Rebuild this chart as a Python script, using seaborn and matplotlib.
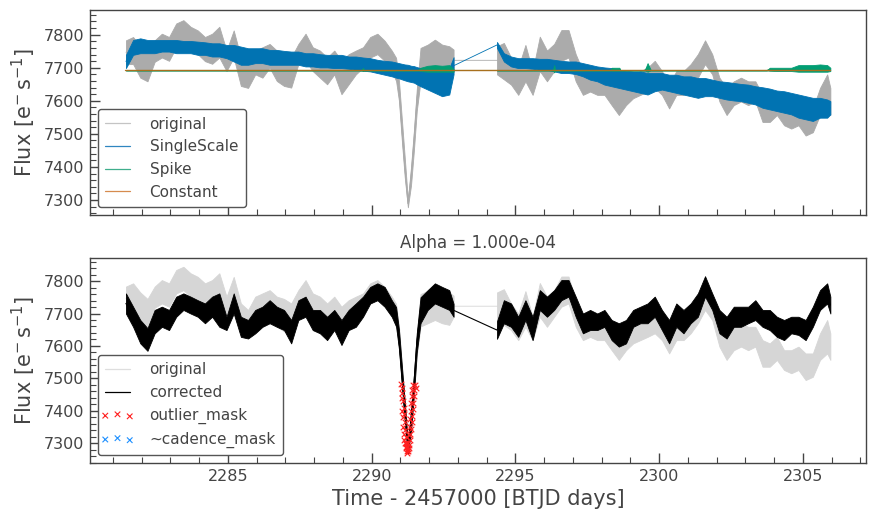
import numpy as np
import pandas as pd
import matplotlib
matplotlib.use("Agg")
import matplotlib.pyplot as plt
from matplotlib.lines import Line2D
from matplotlib.collections import PathCollection
from matplotlib.legend_handler import HandlerPathCollection
from matplotlib.ticker import MultipleLocator
import seaborn as sns

# ---------------- data ----------------
# segment 1 sample times (BTJD)
t1 = [2281.45, 2281.70, 2281.95, 2282.20, 2282.45, 2282.70, 2282.95, 2283.20, 2283.45, 2283.70,
      2283.95, 2284.20, 2284.45, 2284.70, 2284.95, 2285.20, 2285.45, 2285.70, 2285.95, 2286.20,
      2286.45, 2286.70, 2286.95, 2287.20, 2287.45, 2287.70, 2287.95, 2288.20, 2288.45, 2288.70,
      2288.95, 2289.20, 2289.45, 2289.70, 2289.95, 2290.20, 2290.45, 2290.70, 2290.85, 2290.95,
      2291.05, 2291.15, 2291.26, 2291.37, 2291.47, 2291.57, 2291.70, 2291.95, 2292.20, 2292.45,
      2292.70, 2292.85]
# segment 2 sample times (BTJD)
t2 = [2294.36, 2294.60, 2294.85, 2295.10, 2295.35, 2295.60, 2295.85, 2296.10, 2296.35, 2296.60,
      2296.85, 2297.10, 2297.35, 2297.60, 2297.85, 2298.10, 2298.35, 2298.60, 2298.85, 2299.10,
      2299.35, 2299.60, 2299.85, 2300.10, 2300.35, 2300.60, 2300.85, 2301.10, 2301.35, 2301.60,
      2301.85, 2302.10, 2302.35, 2302.60, 2302.85, 2303.10, 2303.35, 2303.60, 2303.85, 2304.10,
      2304.35, 2304.60, 2304.85, 2305.10, 2305.35, 2305.60, 2305.85, 2305.96]

# original flux: lower / upper envelope of the noisy curve
orig_lo1 = [7711, 7711, 7670, 7659, 7718, 7731, 7721, 7762, 7772, 7752,
            7741, 7720, 7712, 7731, 7690, 7731, 7645, 7639, 7680, 7670,
            7700, 7660, 7645, 7640, 7711, 7721, 7690, 7670, 7650, 7680,
            7620, 7650, 7680, 7700, 7731, 7741, 7721, 7690, 7660, 7600,
            7480, 7370, 7278, 7345, 7450, 7570, 7660, 7670, 7680, 7670,
            7665, 7690]
orig_hi1 = [7783, 7793, 7765, 7745, 7783, 7803, 7793, 7834, 7844, 7824,
            7813, 7793, 7803, 7824, 7752, 7813, 7731, 7711, 7752, 7762,
            7772, 7752, 7745, 7731, 7772, 7803, 7762, 7752, 7731, 7752,
            7721, 7741, 7752, 7762, 7793, 7803, 7782, 7752, 7730, 7660,
            7545, 7430, 7300, 7400, 7510, 7635, 7760, 7770, 7785, 7770,
            7765, 7755]
orig_lo2 = [7680, 7665, 7649, 7618, 7659, 7618, 7690, 7659, 7690, 7721,
            7731, 7659, 7618, 7628, 7618, 7618, 7587, 7557, 7587, 7608,
            7618, 7628, 7639, 7618, 7577, 7618, 7618, 7639, 7670, 7711,
            7680, 7598, 7557, 7587, 7598, 7587, 7598, 7536, 7536, 7557,
            7526, 7516, 7526, 7495, 7505, 7557, 7577, 7557]
orig_hi2 = [7765, 7775, 7731, 7700, 7769, 7690, 7794, 7752, 7772, 7814,
            7814, 7741, 7690, 7700, 7690, 7690, 7659, 7639, 7659, 7680,
            7690, 7700, 7721, 7690, 7649, 7690, 7690, 7711, 7741, 7783,
            7741, 7670, 7639, 7659, 7670, 7659, 7659, 7618, 7608, 7628,
            7587, 7587, 7598, 7577, 7577, 7639, 7680, 7639]

# SingleScale component
ss_lo1 = [7699, 7739, 7744, 7744, 7744, 7749, 7749, 7744, 7744, 7744,
          7739, 7739, 7734, 7734, 7729, 7719, 7709, 7709, 7714, 7714,
          7709, 7709, 7709, 7709, 7709, 7704, 7704, 7701, 7701, 7699,
          7699, 7697, 7694, 7691, 7689, 7684, 7679, 7674, 7670, 7668,
          7665, 7662, 7659, 7657, 7655, 7650, 7644, 7634, 7624, 7614,
          7619, 7680]
ss_hi1 = [7739, 7784, 7789, 7784, 7784, 7784, 7784, 7784, 7781, 7781,
          7779, 7777, 7774, 7774, 7769, 7769, 7764, 7759, 7759, 7759,
          7754, 7754, 7751, 7749, 7749, 7744, 7744, 7741, 7739, 7739,
          7739, 7734, 7734, 7731, 7729, 7724, 7721, 7719, 7716, 7714,
          7712, 7710, 7709, 7706, 7705, 7702, 7699, 7699, 7694, 7689,
          7699, 7732]
ss_lo2 = [7760, 7719, 7704, 7699, 7699, 7697, 7694, 7694, 7689, 7684,
          7684, 7681, 7674, 7664, 7659, 7649, 7644, 7639, 7634, 7629,
          7624, 7619, 7629, 7634, 7629, 7624, 7619, 7614, 7609, 7614,
          7614, 7609, 7604, 7601, 7599, 7594, 7589, 7579, 7574, 7569,
          7564, 7559, 7549, 7544, 7539, 7549, 7549, 7559]
ss_hi2 = [7778, 7744, 7734, 7729, 7729, 7729, 7727, 7727, 7724, 7721,
          7719, 7719, 7714, 7709, 7704, 7701, 7699, 7694, 7691, 7689,
          7689, 7684, 7684, 7684, 7679, 7679, 7674, 7674, 7669, 7669,
          7664, 7659, 7657, 7654, 7651, 7649, 7644, 7641, 7637, 7631,
          7629, 7624, 7619, 7614, 7609, 7609, 7604, 7599]

# Spike component (own sample times)
sp_t1 = [2281.45, 2289.66, 2289.70, 2289.74, 2291.60, 2291.70, 2291.95, 2292.20, 2292.45, 2292.70, 2292.85]
sp_lo1 = [7692, 7692, 7690, 7692, 7692, 7690, 7688, 7688, 7688, 7688, 7688]
sp_hi1 = [7692, 7692, 7700, 7692, 7692, 7700, 7706, 7708, 7706, 7708, 7696]
sp_t2 = [2294.36, 2296.31, 2296.35, 2296.39, 2298.31, 2298.35, 2298.62, 2298.66, 2299.50, 2299.60,
         2299.72, 2303.75, 2303.85, 2304.10, 2304.35, 2304.60, 2304.85, 2305.10, 2305.35, 2305.60,
         2305.85, 2305.96]
sp_lo2 = [7692, 7692, 7686, 7692, 7692, 7691, 7691, 7692, 7692, 7688,
          7692, 7692, 7691, 7690, 7690, 7690, 7688, 7688, 7688, 7688,
          7688, 7690]
sp_hi2 = [7692, 7692, 7708, 7692, 7692, 7700, 7700, 7692, 7692, 7714,
          7692, 7692, 7700, 7700, 7700, 7700, 7708, 7708, 7708, 7710,
          7708, 7700]

# Constant component
const_t = [2281.43, 2305.96]
const_f = [7692, 7692]

# corrected flux
corr_lo1 = [7700, 7659, 7608, 7585, 7639, 7659, 7649, 7690, 7711, 7700,
            7690, 7670, 7690, 7659, 7649, 7700, 7628, 7623, 7639, 7659,
            7670, 7659, 7649, 7608, 7680, 7690, 7649, 7639, 7618, 7649,
            7603, 7649, 7659, 7690, 7731, 7741, 7721, 7690, 7660, 7590,
            7480, 7370, 7268, 7340, 7450, 7580, 7670, 7711, 7731, 7721,
            7711, 7690]
corr_hi1 = [7762, 7721, 7680, 7655, 7711, 7721, 7711, 7752, 7762, 7752,
            7741, 7731, 7752, 7762, 7690, 7762, 7690, 7680, 7711, 7721,
            7741, 7721, 7711, 7680, 7741, 7752, 7711, 7711, 7690, 7711,
            7680, 7711, 7731, 7752, 7782, 7793, 7782, 7741, 7720, 7650,
            7540, 7430, 7300, 7400, 7510, 7640, 7750, 7772, 7793, 7782,
            7772, 7730]
corr_lo2 = [7622, 7670, 7659, 7628, 7680, 7618, 7711, 7690, 7711, 7741,
            7752, 7690, 7639, 7649, 7649, 7659, 7618, 7598, 7608, 7659,
            7670, 7670, 7690, 7649, 7608, 7659, 7639, 7670, 7690, 7752,
            7711, 7639, 7623, 7659, 7659, 7670, 7680, 7659, 7649, 7628,
            7618, 7639, 7634, 7618, 7659, 7711, 7731, 7700]
corr_hi2 = [7676, 7741, 7731, 7690, 7741, 7690, 7772, 7752, 7772, 7803,
            7803, 7752, 7700, 7711, 7700, 7711, 7680, 7670, 7680, 7711,
            7721, 7731, 7752, 7711, 7680, 7731, 7711, 7731, 7762, 7815,
            7762, 7711, 7690, 7721, 7721, 7721, 7741, 7711, 7711, 7690,
            7680, 7690, 7690, 7680, 7721, 7772, 7793, 7752]

# outlier mask points (in the transit)
outlier_t = [2291.03, 2291.04, 2291.05, 2291.06, 2291.07, 2291.08, 2291.09, 2291.10, 2291.11, 2291.12,
             2291.13, 2291.14, 2291.15, 2291.16, 2291.17, 2291.18, 2291.19, 2291.20, 2291.21, 2291.22,
             2291.23, 2291.24, 2291.25, 2291.27, 2291.28, 2291.29, 2291.30, 2291.31, 2291.32, 2291.33,
             2291.34, 2291.35, 2291.36, 2291.37, 2291.38, 2291.39, 2291.40, 2291.41, 2291.42, 2291.43,
             2291.44, 2291.45, 2291.47, 2291.49, 2291.51, 2291.53]
outlier_f = [7482, 7440, 7470, 7400, 7455, 7380, 7430, 7350, 7410, 7330,
             7390, 7310, 7365, 7300, 7340, 7290, 7320, 7285, 7300, 7278,
             7290, 7270, 7282, 7275, 7300, 7285, 7325, 7295, 7350, 7310,
             7375, 7330, 7400, 7345, 7425, 7365, 7445, 7385, 7465, 7405,
             7480, 7425, 7445, 7465, 7480, 7470]
# ~cadence_mask points (none visible)
cadence_t = []
cadence_f = []

# ---------------- style ----------------
sns.set_theme(style="white")
TXT = "#444444"
plt.rcParams.update({
    "font.family": ["DejaVu Sans"],
    "mathtext.fontset": "dejavusans",
    "text.color": TXT,
    "axes.labelcolor": TXT,
    "axes.edgecolor": TXT,
    "axes.linewidth": 1.0,
    "xtick.color": TXT,
    "ytick.color": TXT,
    "axes.facecolor": "white",
    "figure.facecolor": "white",
})


def band_df(t, lo, hi):
    return pd.DataFrame({"time": list(t) + list(t), "flux": list(lo) + list(hi)})


def mid_df(segs):
    tt, ff = [], []
    for t, lo, hi in segs:
        tt += list(t)
        ff += [(a + b) / 2.0 for a, b in zip(lo, hi)]
    return pd.DataFrame({"time": tt, "flux": ff})


def draw_series(ax, segs, color, label, z, lw=0.6):
    for t, lo, hi in segs:
        sns.lineplot(data=band_df(t, lo, hi), x="time", y="flux", estimator="mean",
                     errorbar=("pi", 100), color=color, lw=0, ax=ax, zorder=z,
                     err_kws={"alpha": 1, "linewidth": 0.6, "edgecolor": color, "zorder": z})
    sns.lineplot(data=mid_df(segs), x="time", y="flux", errorbar=None, color=color,
                 lw=lw, label=label, ax=ax, zorder=z + 0.01)


fig = plt.figure(figsize=(8.75, 5.19), dpi=100)
W, H = 875.0, 519.0
ax1 = fig.add_axes([90 / W, 1 - 215 / H, 776 / W, 205 / H])
ax2 = fig.add_axes([90 / W, 1 - 463 / H, 776 / W, 205 / H])

# ---- top panel ----
draw_series(ax1, [(t1, orig_lo1, orig_hi1), (t2, orig_lo2, orig_hi2)], "#ababab", "original", 1.0)
draw_series(ax1, [(t1, ss_lo1, ss_hi1), (t2, ss_lo2, ss_hi2)], "#0173b2", "SingleScale", 1.2)
draw_series(ax1, [(sp_t1, sp_lo1, sp_hi1), (sp_t2, sp_lo2, sp_hi2)], "#029e73", "Spike", 1.4)
sns.lineplot(x=const_t, y=const_f, color="#a8701e", lw=1.0, label="Constant", ax=ax1, zorder=1.6)

# ---- bottom panel ----
draw_series(ax2, [(t1, orig_lo1, orig_hi1), (t2, orig_lo2, orig_hi2)], "#d6d6d6", "original", 1.0)
draw_series(ax2, [(t1, corr_lo1, corr_hi1), (t2, corr_lo2, corr_hi2)], "#000000", "corrected", 1.2, lw=0.8)
sns.scatterplot(x=outlier_t, y=outlier_f, marker="x", color="#ff2020", s=16, linewidth=0.8,
                label="outlier_mask", ax=ax2, zorder=3)
ax2.scatter(cadence_t, cadence_f, marker="x", color="#1e90ff", s=16, linewidths=0.8,
            label="~cadence_mask", zorder=3)

ylab = r"Flux [$\mathrm{e^{-}\,s^{-1}}$]"
for ax, ylim in ((ax1, (7254.6, 7874.7)), (ax2, (7239.5, 7871.0))):
    ax.set_xlim(2280.2, 2307.2)
    ax.set_ylim(*ylim)
    ax.grid(False)
    ax.xaxis.set_major_locator(MultipleLocator(5))
    ax.xaxis.set_minor_locator(MultipleLocator(1))
    ax.yaxis.set_major_locator(MultipleLocator(100))
    ax.yaxis.set_minor_locator(MultipleLocator(20))
    ax.tick_params(which="major", direction="in", length=7.2, width=1.0, labelsize=11.5,
                   bottom=True, left=True, top=False, right=False, colors=TXT, pad=4)
    ax.tick_params(which="minor", direction="in", length=4.3, width=0.8,
                   bottom=True, left=True, top=False, right=False, colors=TXT)
    ax.set_ylabel(ylab, fontsize=15, color=TXT)
    for s in ax.spines.values():
        s.set_color(TXT)
        s.set_linewidth(1.0)

ax1.tick_params(labelbottom=False)
ax1.set_xlabel("")
ax2.set_xlabel("Time - 2457000 [BTJD days]", fontsize=15, color=TXT)
ax2.set_title("Alpha = 1.000e-04", fontsize=12, color=TXT, pad=7)

leg_kw = dict(loc="lower left", fontsize=11, frameon=True, fancybox=True, framealpha=1,
              edgecolor="#555555", facecolor="white", handlelength=1.6, handletextpad=1.3,
              borderpad=0.5, scatterpoints=3, labelcolor=TXT,
              handler_map={PathCollection: HandlerPathCollection(marker_pad=0.0)})
leg1 = ax1.legend(**leg_kw)
leg2 = ax2.legend(**leg_kw)
for leg, cols in ((leg1, ["#c4c4c4", "#2f86c0", "#3fae8c", "#d68b4e"]),
                  (leg2, ["#dedede", "#000000", None, None])):
    leg.get_frame().set_linewidth(1.0)
    for h, c in zip(leg.legend_handles, cols):
        if isinstance(h, Line2D):
            h.set_linewidth(0.9)
            if c is not None:
                h.set_color(c)

fig.savefig("out.png", dpi=100)
